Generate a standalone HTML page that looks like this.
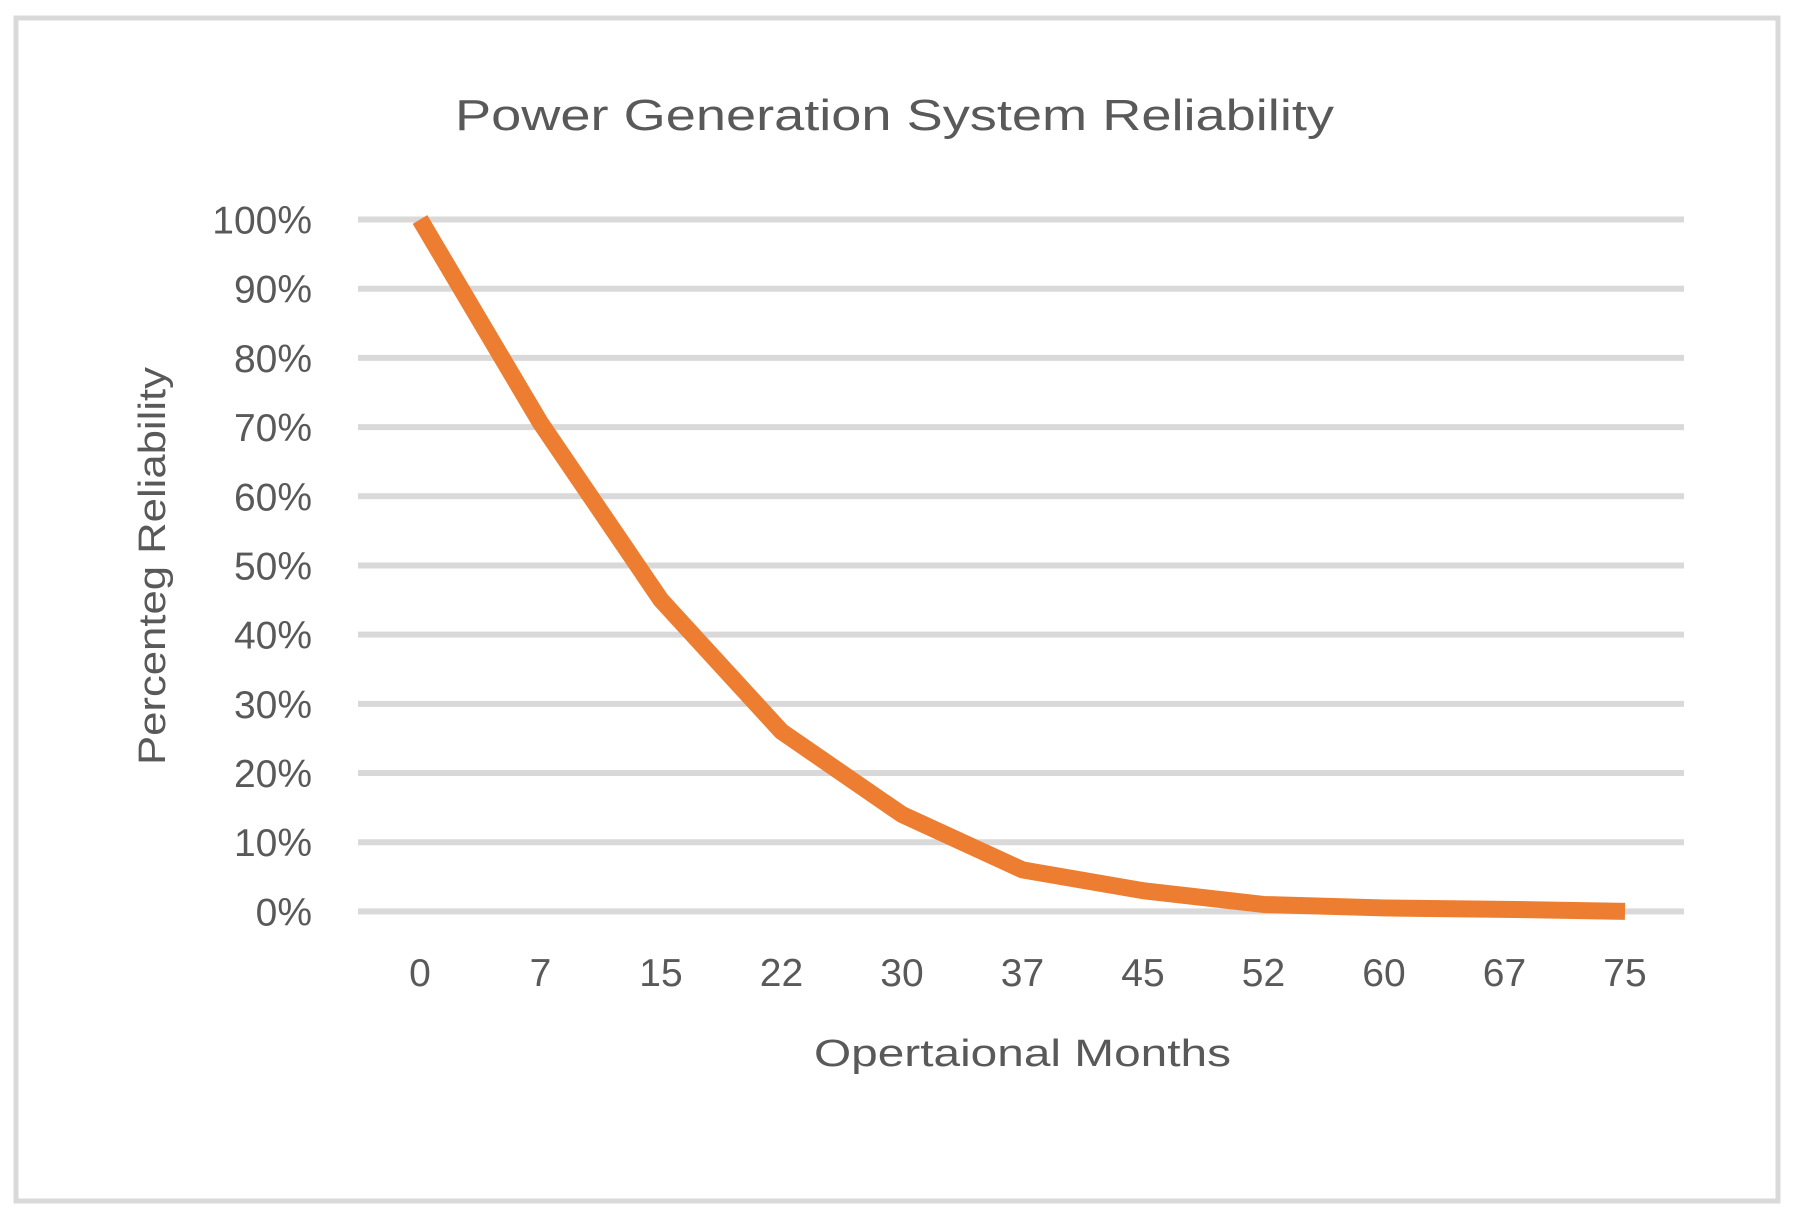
<!DOCTYPE html>
<html><head><meta charset="utf-8"><style>
html,body{margin:0;padding:0;background:#fff;}
svg{display:block;}
text{font-family:"Liberation Sans",sans-serif;fill:#595959;}
</style></head><body>
<svg id="chart" width="1793" height="1215" viewBox="0 0 1793 1215">
<rect x="16" y="18" width="1762" height="1183" fill="#fff" stroke="#d9d9d9" stroke-width="5"/>
<text x="455" y="130" font-size="44" textLength="879" lengthAdjust="spacingAndGlyphs">Power Generation System Reliability</text>
<g id="grid"></g>
<g id="ylabels"></g>
<g id="xlabels"></g>
<path id="line" fill="none" stroke="#ed7d31" stroke-width="17" stroke-linejoin="round"/>
<text x="814" y="1066" font-size="38" textLength="417" lengthAdjust="spacingAndGlyphs">Opertaional Months</text>
<text transform="translate(165,566) rotate(-90)" font-size="38" text-anchor="middle" textLength="398" lengthAdjust="spacingAndGlyphs">Percenteg Reliability</text>
</svg>
<script>
const categories = ["0","7","15","22","30","37","45","52","60","67","75"];
const values = [100,70.6,45,26,14,6,3,1,0.5,0.3,0];
const yTicks = [0,10,20,30,40,50,60,70,80,90,100];
const ns = "http://www.w3.org/2000/svg";
const plotL = 358, plotR = 1684, plotTop = 219.5, plotBot = 911.4;
const x0 = 420, x1 = 1625;
function xPos(i){ return x0 + i*(x1-x0)/(categories.length-1); }
function yPos(v){ return plotBot - v/100*(plotBot-plotTop); }
const grid = document.getElementById('grid'), yl = document.getElementById('ylabels'), xl = document.getElementById('xlabels');
yTicks.forEach(t=>{
  const l = document.createElementNS(ns,'line');
  l.setAttribute('x1',plotL); l.setAttribute('x2',plotR);
  l.setAttribute('y1',yPos(t)); l.setAttribute('y2',yPos(t));
  l.setAttribute('stroke','#d9d9d9'); l.setAttribute('stroke-width','6');
  
  
  grid.appendChild(l);
  const tx = document.createElementNS(ns,'text');
  tx.setAttribute('x',312); tx.setAttribute('y',yPos(t)+14);
  tx.setAttribute('font-size','39'); tx.setAttribute('text-anchor','end');
  tx.textContent = t+'%';
  
  
  yl.appendChild(tx);
});
categories.forEach((c,i)=>{
  const tx = document.createElementNS(ns,'text');
  tx.setAttribute('x',xPos(i)); tx.setAttribute('y',986);
  tx.setAttribute('font-size','39'); tx.setAttribute('text-anchor','middle');
  tx.textContent = c;
  
  
  xl.appendChild(tx);
});
document.getElementById('line').setAttribute('d', values.map((v,i)=>(i?'L':'M')+xPos(i)+','+yPos(v)).join(' '));
</script>
</body></html>
